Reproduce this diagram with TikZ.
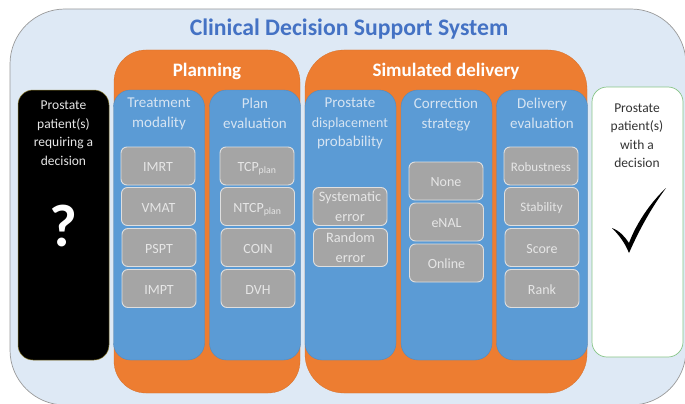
\documentclass[tikz,border=0pt]{standalone}
\usepackage{fontspec}
\setmainfont{Carlito}
\definecolor{outerfill}{HTML}{DEE9F5}
\definecolor{orangefill}{HTML}{ED7D31}
\definecolor{bluefill}{HTML}{5B9BD5}
\definecolor{greyfill}{HTML}{A5A5A5}
\definecolor{titleblue}{HTML}{4472C4}
\definecolor{headtext}{HTML}{D6E4F2}
\definecolor{boxtext}{HTML}{E6E6E6}
\definecolor{goldedge}{HTML}{8A7A30}
\tikzset{
  x=1pt,y=-1pt,
  box/.style={rectangle,inner sep=0pt,outer sep=0pt,minimum width=#1},
  outerbox/.style={box=676pt,minimum height=396pt,rounded corners=55pt,fill=outerfill,draw=gray!80,line width=0.7pt},
  stage/.style 2 args={box=#1,minimum height=343pt,rounded corners=#2,fill=orangefill,draw=orangefill!90!black,line width=0.3pt},
  column/.style={box=91pt,minimum height=270pt,rounded corners=17pt,fill=bluefill,draw=bluefill!90!black,line width=0.4pt},
  patientq/.style={box=91pt,minimum height=270pt,rounded corners=15pt,fill=black,draw=goldedge,line width=0.5pt},
  patientok/.style={box=91pt,minimum height=270pt,rounded corners=15pt,fill=white,draw=green!35!gray!70,line width=0.7pt},
  greybase/.style={box=74pt,minimum height=38pt,rounded corners=6pt,fill=greyfill,draw=gray!25,line width=0.9pt,text=boxtext,align=center},
  greybox/.style={greybase,font=\fontsize{14}{14.5}\selectfont,text height=11pt,text depth=0pt},
  greynarrow/.style={greybase,font=\fontsize{13}{14}\selectfont,text height=10.5pt,text depth=0pt},
  greytwo/.style={greybase,font=\fontsize{14.4}{20}\selectfont,text height=29pt,text depth=0pt},
  head/.style={text=headtext,font=\fontsize{15}{19.5}\selectfont,align=center,inner sep=0pt,anchor=north},
  stagehead/.style={text=white,font=\bfseries\fontsize{19}{22}\selectfont,inner sep=0pt},
  sidetext/.style={font=\fontsize{13.5}{18.4}\selectfont,align=center,inner sep=0pt,anchor=north},
}
\begin{document}
\begin{tikzpicture}
\useasboundingbox (0,0) rectangle (685,404);
\clip (0,0) rectangle (685,404);
\node[outerbox] (outer) at (348,207) {};
\node[text=titleblue,font=\bfseries\fontsize{23.7}{26}\selectfont,inner sep=0pt] (title) at (349,29.5) {Clinical Decision Support System};
% side panels
\node[patientq] (ask) at (63.5,225) {};
\node[sidetext,text=boxtext] (asktext) at (63.5,101) {Prostate\\patient(s)\\requiring a\\decision};
\node[text=white,font=\bfseries\fontsize{60}{60}\selectfont,inner sep=0pt] (qmark) at (63,226) {?};
\node[patientok] (done) at (637.5,222) {};
\node[sidetext,text=black!80] (donetext) at (637,103.5) {Prostate\\patient(s)\\with a\\decision};
\fill[black] (612,228) .. controls (620,231) and (625,237) .. (629,243) .. controls (636,224) and (650,203) .. (666,188) .. controls (652,207) and (640,228) .. (629,253) .. controls (625,243) and (619,235) .. (612,228) -- cycle;
% stages
\node[stage={186pt}{32pt}] (planning) at (207,221.5) {};
\node[stage={282pt}{39pt}] (delivery) at (446,221.5) {};
\node[stagehead] (planninghead) at (207,71.5) {Planning};
\node[stagehead] (deliveryhead) at (446,71.5) {Simulated delivery};
% columns
\node[column] (c1) at (159,225) {};
\node[column] (c2) at (255,225) {};
\node[column] (c3) at (350.5,225) {};
\node[column] (c4) at (446.5,225) {};
\node[column] (c5) at (542,225) {};
\node[head] (h1) at (159,98) {Treatment\\modality};
\node[head] (h2) at (255,98) {Plan\\evaluation};
\node[head] (h3) at (350,98) {Prostate\\{\fontsize{14}{19}\selectfont displacement}\\probability};
\node[head] (h4) at (446,98) {Correction\\strategy};
\node[head] (h5) at (542,98) {Delivery\\evaluation};
% column 1
\node[greybox] (imrt) at (158,166) {IMRT};
\node[greybox] (vmat) at (158.5,206.5) {VMAT};
\node[greybox] (pspt) at (159,247.5) {PSPT};
\node[greybox] (impt) at (159,288.5) {IMPT};
% column 2
\node[greybox] (tcp) at (257,166) {TCP\textsubscript{plan}};
\node[greybox] (ntcp) at (257.5,206.5) {NTCP\textsubscript{plan}};
\node[greybox] (coin) at (258,247.5) {COIN};
\node[greybox] (dvh) at (258,288.5) {DVH};
% column 3
\node[greytwo] (sys) at (350,206.5) {Systematic\\error};
\node[greytwo] (rand) at (350.5,247.5) {Random\\error};
% column 4
\node[greybox] (none) at (446,181) {None};
\node[greybox] (enal) at (446.5,222) {eNAL};
\node[greybox] (online) at (446.5,263) {Online};
% column 5
\node[greynarrow] (rob) at (541,166) {Robustness};
\node[greynarrow] (stab) at (541.5,206.5) {Stability};
\node[greybox] (score) at (542,247.5) {Score};
\node[greybox] (rank) at (542,288.5) {Rank};
\end{tikzpicture}
\end{document}
